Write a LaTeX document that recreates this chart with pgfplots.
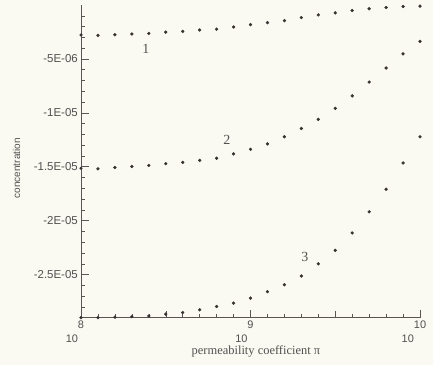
\documentclass[border=0pt]{standalone}
\usepackage{pgfplots}
\pgfplotsset{compat=1.18}
\usepackage{fontspec}
\setmainfont{Liberation Serif}
\setsansfont{Liberation Sans}

\definecolor{paper}{RGB}{250,250,242}
\definecolor{ink}{RGB}{80,80,80}
\definecolor{dotc}{RGB}{55,50,50}
\definecolor{axisc}{RGB}{90,85,85}

% concentration profiles, x = log10 of the permeability coefficient
\pgfplotstableread{
x     c1        c2         c3
8.0  -2.78e-6  -15.14e-6  -29.00e-6
8.1  -2.82e-6  -15.19e-6  -29.00e-6
8.2  -2.76e-6  -15.07e-6  -28.95e-6
8.3  -2.69e-6  -14.97e-6  -28.90e-6
8.4  -2.64e-6  -14.88e-6  -28.84e-6
8.5  -2.52e-6  -14.72e-6  -28.67e-6
8.6  -2.45e-6  -14.60e-6  -28.52e-6
8.7  -2.32e-6  -14.41e-6  -28.27e-6
8.8  -2.24e-6  -14.21e-6  -27.96e-6
8.9  -2.04e-6  -13.81e-6  -27.65e-6
9.0  -1.82e-6  -13.38e-6  -27.18e-6
9.1  -1.64e-6  -12.88e-6  -26.59e-6
9.2  -1.45e-6  -12.22e-6  -25.94e-6
9.3  -1.17e-6  -11.45e-6  -25.13e-6
9.4  -0.92e-6  -10.61e-6  -24.00e-6
9.5  -0.73e-6  -9.58e-6   -22.76e-6
9.6  -0.51e-6  -8.43e-6   -21.14e-6
9.7  -0.35e-6  -7.15e-6   -19.18e-6
9.8  -0.23e-6  -5.84e-6   -17.08e-6
9.9  -0.14e-6  -4.53e-6   -14.65e-6
10.0 -0.11e-6  -3.38e-6   -12.22e-6
}\profiles

\begin{document}
\begin{tikzpicture}[x=1bp,y=1bp]
\path[use as bounding box, fill=paper] (0,0) rectangle (433,365);
\begin{axis}[
  at={(81bp,47.3bp)}, anchor=south west,
  scale only axis, width=339bp, height=312.7bp,
  xmin=8, xmax=10, ymin=-2.9e-5, ymax=0,
  axis x line=bottom, axis y line=left,
  axis line style={-, draw=axisc, line width=0.6pt},
  tick style={draw=axisc, line width=0.5pt},
  tick align=inside,
  major tick length=8bp, minor tick length=4bp,
  xtick={8,9,10},
  minor xtick={8.1,8.2,8.3,8.4,8.6,8.7,8.8,8.9,9.1,9.2,9.3,9.4,9.6,9.7,9.8,9.9},
  extra x ticks={8.5,9.5},
  extra x tick labels={},
  extra x tick style={major tick length=6.5bp},
  xticklabels={\llap{\raisebox{-13.5bp}{10}}8,\llap{\raisebox{-13.5bp}{10}}9,\llap{\raisebox{-13.5bp}{10}}10},
  xticklabel style={anchor=north, inner sep=0pt, yshift=-3bp,
    font=\sffamily\fontsize{11}{11}\selectfont, text=ink},
  ytick={-2.5e-5,-2e-5,-1.5e-5,-1e-5,-5e-6},
  yticklabels={-2.5E-05,-2E-05,-1.5E-05,-1E-05,-5E-06},
  minor ytick={-2.9e-5,-2.8e-5,-2.7e-5,-2.6e-5,-2.4e-5,-2.3e-5,-2.2e-5,-2.1e-5,
    -1.9e-5,-1.8e-5,-1.7e-5,-1.6e-5,-1.4e-5,-1.3e-5,-1.2e-5,-1.1e-5,
    -9e-6,-8e-6,-7e-6,-6e-6,-4e-6,-3e-6,-2e-6,-1e-6},
  yticklabel style={anchor=east, inner sep=0pt, xshift=-3bp,
    font=\sffamily\fontsize{11.5}{11.5}\selectfont, text=ink},
  scaled y ticks=false,
  xlabel={permeability coefficient π},
  xlabel style={at={(axis description cs:0.516,-0.107)}, anchor=center,
    font=\fontsize{12.5}{12.5}\selectfont, text=ink},
  ylabel={concentration},
  ylabel style={at={(axis description cs:-0.19,0.478)}, anchor=center,
    font=\sffamily\fontsize{10}{10}\selectfont, text=ink},
  clip=false,
]
\addplot[only marks, mark=*, mark size=1.45pt, color=dotc] table[x=x, y=c1] {\profiles};
\addplot[only marks, mark=*, mark size=1.45pt, color=dotc] table[x=x, y=c2] {\profiles};
\addplot[only marks, mark=*, mark size=1.45pt, color=dotc] table[x=x, y=c3] {\profiles};
\node[text=ink, font=\fontsize{14}{14}\selectfont] at (axis cs:8.382,-4.07e-6) {1};
\node[text=ink, font=\fontsize{14}{14}\selectfont] at (axis cs:8.86,-12.54e-6) {2};
\node[text=ink, font=\fontsize{14}{14}\selectfont] at (axis cs:9.32,-23.32e-6) {3};
\end{axis}
\end{tikzpicture}
\end{document}
